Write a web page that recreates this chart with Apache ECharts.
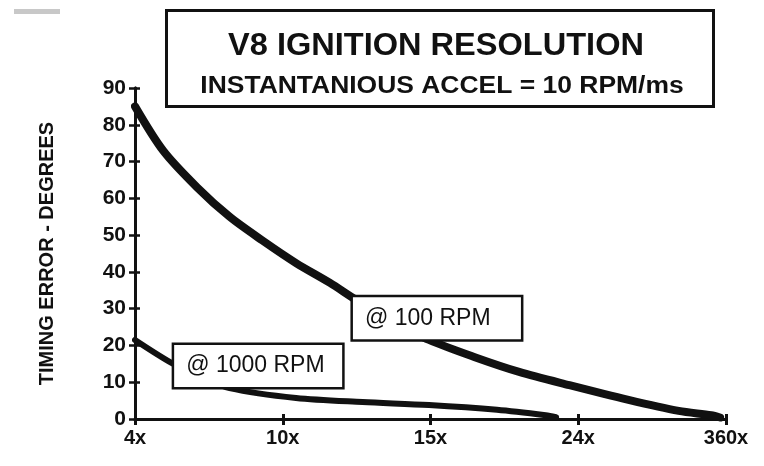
<!DOCTYPE html>
<html>
<head>
<meta charset="utf-8">
<script src="https://cdn.jsdelivr.net/npm/echarts@6/dist/echarts.min.js"></script>
<style>html,body{margin:0;padding:0;background:#fff;}#c{width:764px;height:466px;}</style>
</head>
<body>
<div id="c"></div>
<script>
// ---- data ----
var xTickLabels = ['4x', '10x', '15x', '24x', '360x'];
var yTicks = [0, 10, 20, 30, 40, 50, 60, 70, 80, 90];
var rpm100X = [0, 0.19, 0.42, 0.64, 0.86, 1.09, 1.32, 1.5, 1.75, 1.99, 2.3, 2.6, 2.94, 3.34, 3.68, 3.9, 3.96];
var rpm100Y = [85, 73, 63, 55, 48.6, 42.4, 37, 32.3, 26.5, 21.5, 16.8, 12.8, 9.2, 5.2, 2.2, 1, 0.4];
var rpm1000X = [0, 0.25, 0.45, 0.64, 1.09, 1.54, 1.99, 2.45, 2.78, 2.85];
var rpm1000Y = [21.5, 15.2, 11.5, 8.4, 5.7, 4.6, 3.8, 2.5, 1, 0.5];
var seriesNames = ['@ 100 RPM', '@ 1000 RPM'];
var titleText = 'V8 IGNITION RESOLUTION';
var subtitleText = 'INSTANTANIOUS ACCEL = 10 RPM/ms';
var yAxisName = 'TIMING ERROR - DEGREES';
// annotation anchor points (data space, left-middle of each boxed label)
var label100At = [1.475, 27.4];
var label1000At = [0.265, 14.4];

function pairs(xs, ys) { return xs.map(function (x, i) { return [x, ys[i]]; }); }

var FONT = '"Liberation Sans", Arial, sans-serif';
var chart = echarts.init(document.getElementById('c'));

function boxLabel(name, at) {
  return {
    symbol: 'circle',
    symbolSize: 0,
    silent: true,
    itemStyle: { color: 'rgba(0,0,0,0)' },
    label: {
      show: true, position: 'inside', color: '#111', fontFamily: FONT, fontSize: 23,
      formatter: name, backgroundColor: '#fff', borderColor: '#111', borderWidth: 2.5,
      padding: [9, 10, 9, 12], width: 146, lineHeight: 24, align: 'left'
    },
    data: [{ coord: at }]
  };
}

var xCommon = {
  type: 'value', min: 0, max: 4, interval: 1,
  axisLine: { show: true, lineStyle: { color: '#111', width: 3 } },
  splitLine: { show: false }
};
var yCommon = {
  type: 'value', min: 0, max: 90, interval: 10,
  axisLine: { show: true, lineStyle: { color: '#111', width: 3 } },
  splitLine: { show: false }
};

chart.setOption({
  animation: false,
  backgroundColor: '#fff',
  grid: { left: 135, right: 38, top: 88, bottom: 47, containLabel: false },
  xAxis: [
    Object.assign({}, xCommon, {
      axisTick: { show: true, inside: false, length: 6, lineStyle: { color: '#111', width: 3 } },
      axisLabel: {
        color: '#111', fontFamily: FONT, fontWeight: 'bold', fontSize: 20, margin: 9,
        formatter: function (v) { return xTickLabels[Math.round(v)]; }
      }
    }),
    Object.assign({}, xCommon, {
      position: 'bottom',
      axisTick: { show: true, inside: true, length: 5, lineStyle: { color: '#111', width: 3 } },
      axisLabel: { show: false }
    })
  ],
  yAxis: [
    Object.assign({}, yCommon, {
      name: yAxisName, nameLocation: 'middle', nameRotate: 90, nameGap: 78,
      nameTextStyle: { color: '#111', fontFamily: FONT, fontWeight: 'bold', fontSize: 20 },
      axisTick: { show: true, inside: false, length: 6, lineStyle: { color: '#111', width: 2.5 } },
      axisLabel: { color: '#111', fontFamily: FONT, fontWeight: 'bold', fontSize: 21, margin: 9 }
    }),
    Object.assign({}, yCommon, {
      position: 'left',
      axisTick: { show: true, inside: true, length: 5, lineStyle: { color: '#111', width: 2.5 } },
      axisLabel: { show: false }
    })
  ],
  series: [
    {
      name: seriesNames[0], type: 'line', smooth: 0.3, showSymbol: false, silent: true,
      data: pairs(rpm100X, rpm100Y),
      lineStyle: { color: '#111', width: 8, cap: 'round' },
      markPoint: boxLabel(seriesNames[0], label100At),
      z: 3
    },
    {
      name: seriesNames[1], type: 'line', smooth: 0.3, showSymbol: false, silent: true,
      data: pairs(rpm1000X, rpm1000Y),
      lineStyle: { color: '#111', width: 6, cap: 'round' },
      markPoint: boxLabel(seriesNames[1], label1000At),
      z: 3
    }
  ],
  graphic: [
    { type: 'rect', left: 14, top: 9, shape: { width: 46, height: 5 }, style: { fill: '#c8c8c8' }, silent: true },
    {
      type: 'rect', left: 165, top: 9, shape: { width: 547, height: 96 },
      style: { fill: '#fff', stroke: '#111', lineWidth: 3 }, z: 10
    },
    {
      type: 'text', x: 436, y: 31, scaleX: 1.05, z: 11,
      style: { text: titleText, fill: '#111', font: 'bold 31px ' + FONT, textAlign: 'center' }
    },
    {
      type: 'text', x: 442, y: 75, scaleX: 1.15, z: 11,
      style: { text: subtitleText, fill: '#111', font: 'bold 23px ' + FONT, textAlign: 'center' }
    }
  ]
});
</script>
</body>
</html>
